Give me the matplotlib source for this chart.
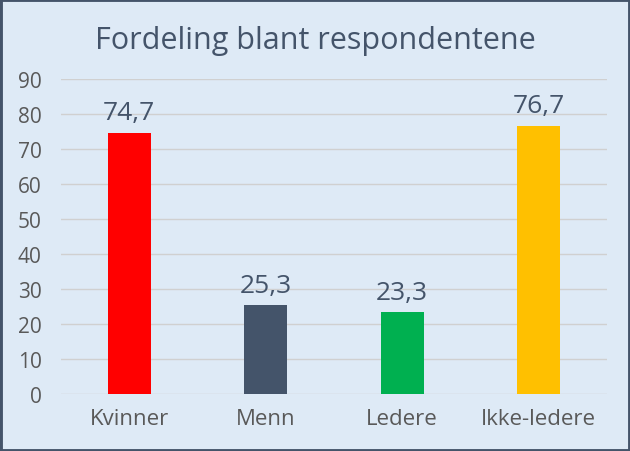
import matplotlib
matplotlib.use("Agg")
import matplotlib.pyplot as plt
from matplotlib.patches import Rectangle

categories = ["Kvinner", "Menn", "Ledere", "Ikke-ledere"]
values = [74.7, 25.3, 23.3, 76.7]
bar_colors = ["#FF0000", "#44546A", "#00B050", "#FFC000"]
yticks = [0, 10, 20, 30, 40, 50, 60, 70, 80, 90]
title = "Fordeling blant respondentene"

plt.rcParams['font.family'] = ['Open Sans', 'DejaVu Sans']

bg = "#DEEAF6"
fig = plt.figure(figsize=(6.3, 4.52), dpi=100, facecolor=bg)
ax = fig.add_axes([0.0968, 0.126, 0.8667, 0.697])
ax.set_facecolor(bg)

x = list(range(len(categories)))
ax.bar(x, values, width=0.315, color=bar_colors, zorder=3)
for xi, v in zip(x, values):
    ax.text(xi, v + 2.2, f"{v:.1f}".replace(".", ","), ha="center", va="bottom",
            fontsize=19, color="#44546A", zorder=4)

ax.set_xlim(-0.5, len(categories) - 0.5)
ax.set_ylim(0, 90)
ax.set_yticks(yticks)
ax.set_yticklabels([str(t) for t in yticks])
ax.set_xticks(x)
ax.set_xticklabels(categories)
ax.tick_params(axis="both", length=0, labelsize=15, colors="#595959")
ax.tick_params(axis="x", labelsize=16, pad=10)
ax.tick_params(axis="y", pad=14)
ax.grid(axis="y", color="#D0D0D0", linewidth=1, zorder=0)
for s in ax.spines.values():
    s.set_visible(False)

fig.text(0.5, 0.91, title, ha="center", va="center", fontsize=22, color="#44546A")

fig.patches.append(Rectangle((0, 0), 1, 1, transform=fig.transFigure, fill=False,
                             edgecolor="#44546A", linewidth=3.5, zorder=10))

fig.savefig("out.png", dpi=100, facecolor=bg)
